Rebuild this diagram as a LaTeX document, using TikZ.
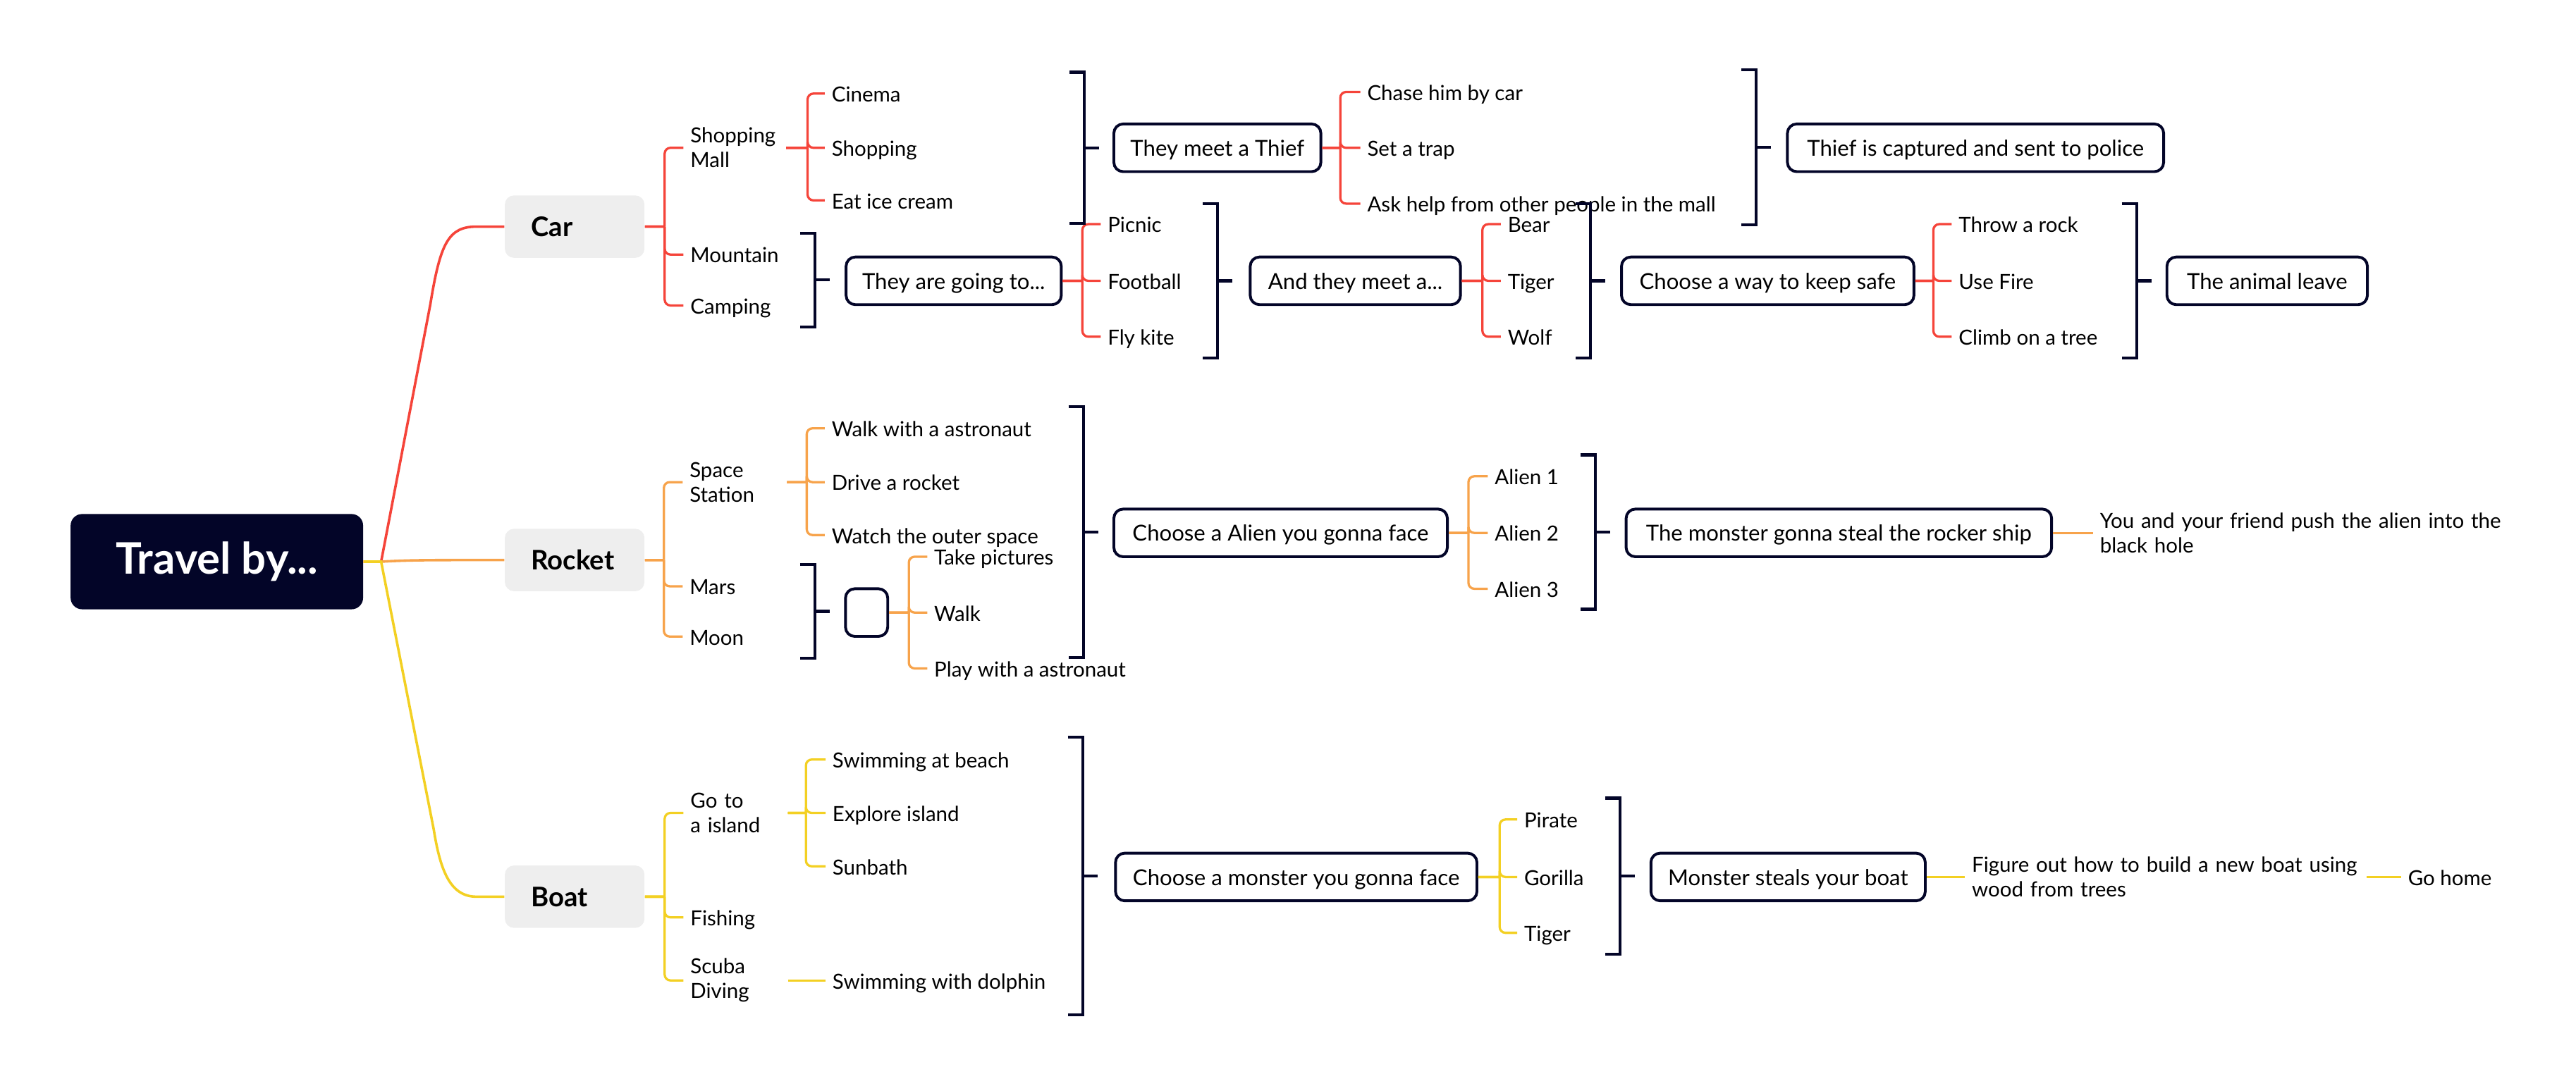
\documentclass[tikz,border=0pt]{standalone}
\usepackage{fontspec}
\setmainfont{Lato}
\usetikzlibrary{positioning}
\hyphenpenalty=10000

\definecolor{navy}{RGB}{3,5,40}
\definecolor{carred}{RGB}{245,68,58}
\definecolor{rocketorange}{RGB}{247,163,75}
\definecolor{boatyellow}{RGB}{243,208,35}
\definecolor{topicgray}{RGB}{238,238,238}

\newcommand\sumbrace[3]{\draw[brk] (#1-9,#2) -- (#1,#2) -- (#1,#3) -- (#1-9,#3) (#1,{(#2+#3)/2}) -- ++(9,0);}

\begin{document}
\begin{tikzpicture}[x=0.025cm,y=-0.025cm,
    font=\fontsize{9}{10.7}\selectfont,
    root/.style={fill=navy, text=white, rounded corners=5pt, minimum width=4.45cm, minimum height=1.45cm, inner sep=0pt, font=\bfseries\fontsize{18.8}{22}\selectfont},
    topic/.style={anchor=west, fill=topicgray, rounded corners=4pt, text width=1.325cm, inner xsep=0.4cm, inner ysep=0pt, minimum height=0.95cm, align=left, font=\bfseries\fontsize{11.7}{14}\selectfont},
    leaf/.style={anchor=west, inner xsep=0.1cm, inner ysep=0pt, text height=0.95em, text depth=0.23em},
    two/.style={anchor=west, inner xsep=0.1cm, inner ysep=0pt, align=left, text width=#1*0.025cm},
    box/.style={draw=navy, line width=1.2pt, fill=white, rounded corners=4pt, minimum width=#1*0.025cm, minimum height=0.725cm, inner sep=0pt, text height=0.95em, text depth=0.23em, font=\fontsize{9.5}{11}\selectfont},
    fork/.style={to path={-- ++(#1,0) ++(0,0) |- (\tikztotarget)}},
    carbr/.style={carred, line width=1pt, rounded corners=2.5pt},
    rocketbr/.style={rocketorange, line width=1pt, rounded corners=2.5pt},
    boatbr/.style={boatyellow, line width=1pt, rounded corners=2.5pt},
    trunk/.style={line width=1.1pt},
    brk/.style={draw=navy, line width=1.3pt}]

    \useasboundingbox (0,0) rectangle (1568,661);

    \node[root] (travel) at (132,342) {Travel by...};
    \node[topic] (car) at (307,138) {Car};
    \node[topic] (rocket) at (307,341) {Rocket};
    \node[topic] (boat) at (307,546) {Boat};

    \node[two=54] (mall) at (416,90) {Shopping\\Mall};
    \node[leaf] (mountain) at (416,155) {Mountain};
    \node[leaf] (camping) at (416,186) {Camping};
    \node[leaf] (cinema) at (502,57) {Cinema};
    \node[leaf] (shop) at (502,90) {Shopping};
    \node[leaf] (icecream) at (502,122) {Eat ice cream};
    \node[box=126] (thief) at (741,90) {They meet a Thief};
    \node[leaf] (chase) at (828,56) {Chase him by car};
    \node[leaf] (trap) at (828,90) {Set a trap};
    \node[leaf] (askhelp) at (828,124) {Ask help from other people in the mall};
    \node[box=229] (captured) at (1202.5,90) {Thief is captured and sent to police};
    \node[box=131] (going) at (580.5,171) {They are going to...};
    \node[leaf] (picnic) at (670,136.5) {Picnic};
    \node[leaf] (football) at (670,171) {Football};
    \node[leaf] (kite) at (670,205) {Fly kite};
    \node[box=128] (meet) at (825,171) {And they meet a...};
    \node[leaf] (bear) at (913.5,136.5) {Bear};
    \node[leaf] (tiger) at (913.5,171) {Tiger};
    \node[leaf] (wolf) at (913.5,205) {Wolf};
    \node[box=178] (safe) at (1076,171) {Choose a way to keep safe};
    \node[leaf] (rock) at (1188,136.5) {Throw a rock};
    \node[leaf] (fire) at (1188,171) {Use Fire};
    \node[leaf] (climb) at (1188,205) {Climb on a tree};
    \node[box=122] (leave) at (1380,171) {The animal leave};

    \node[two=55] (station) at (415.5,293.6) {Space\\Station};
    \node[leaf] (mars) at (415.5,357) {Mars};
    \node[leaf] (moon) at (415.5,387.6) {Moon};
    \node[leaf] (walkastro) at (502,260.8) {Walk with a astronaut};
    \node[leaf] (drive) at (502,293.6) {Drive a rocket};
    \node[leaf] (watch) at (502,325.8) {Watch the outer space};
    \node[box=203] (alien) at (779.5,324.5) {Choose a Alien you gonna face};
    \node[leaf] (alien1) at (905.6,290) {Alien 1};
    \node[leaf] (alien2) at (905.6,324.5) {Alien 2};
    \node[leaf] (alien3) at (905.6,358.5) {Alien 3};
    \node[box=259] (steal) at (1119.3,324.5) {The monster gonna steal the rocker ship};
    \node[two=260] (push) at (1274,324.5) {You and your friend push the alien into the\\black hole};
    \node[box=25.7] (blank) at (527.5,373) {};
    \node[leaf] (pictures) at (564.4,339) {Take pictures};
    \node[leaf] (walk) at (564.4,373) {Walk};
    \node[leaf] (play) at (564.4,407) {Play with a astronaut};

    \node[two=55] (island) at (416,495) {Go to\\a island};
    \node[leaf] (fishing) at (416,558.6) {Fishing};
    \node[two=55] (scuba) at (416,597) {Scuba\\Diving};
    \node[leaf] (beach) at (502.5,462.5) {Swimming at beach};
    \node[leaf] (explore) at (502.5,495) {Explore island};
    \node[leaf] (sunbath) at (502.5,527.5) {Sunbath};
    \node[leaf] (dolphin) at (502.5,597) {Swimming with dolphin};
    \node[box=220] (monster) at (789,534) {Choose a monster you gonna face};
    \node[leaf] (pirate) at (923.5,499) {Pirate};
    \node[leaf] (gorilla) at (923.5,534) {Gorilla};
    \node[leaf] (tigerb) at (923.5,568) {Tiger};
    \node[box=167] (steals) at (1088.4,534) {Monster steals your boat};
    \node[two=236] (figure) at (1196,534) {Figure out how to build a new boat using\\wood from trees};
    \node[leaf] (gohome) at (1461.5,534) {Go home};

    \draw[trunk, carred] (travel.east) -- (232,342) -- (262,185) .. controls (268,148) and (273,138) .. (290,138) -- (car.west);
    \draw[trunk, rocketorange] (travel.east) -- (232,342) .. controls (250,341) and (260,341) .. (rocket.west);
    \draw[trunk, boatyellow] (travel.east) -- (232,342) -- (264,505) .. controls (268,530) and (274,546) .. (290,546) -- (boat.west);

    \path[carbr]
    (car.east) edge[fork=12] (mall.west) edge[fork=12] (mountain.west) edge[fork=12] (camping.west)
    (mall.east) edge[fork=13] (cinema.west) edge[fork=13] (shop.west) edge[fork=13] (icecream.west)
    (thief.east) edge[fork=11] (chase.west) edge[fork=11] (trap.west) edge[fork=11] (askhelp.west)
    (going.east) edge[fork=12] (picnic.west) edge[fork=12] (football.west) edge[fork=12] (kite.west)
    (meet.east) edge[fork=12.5] (bear.west) edge[fork=12.5] (tiger.west) edge[fork=12.5] (wolf.west)
    (safe.east) edge[fork=11] (rock.west) edge[fork=11] (fire.west) edge[fork=11] (climb.west);

    \path[rocketbr]
    (rocket.east) edge[fork=11.5] (station.west) edge[fork=11.5] (mars.west) edge[fork=11.5] (moon.west)
    (station.east) edge[fork=12] (walkastro.west) edge[fork=12] (drive.west) edge[fork=12] (watch.west)
    (alien.east) edge[fork=12] (alien1.west) edge[fork=12] (alien2.west) edge[fork=12] (alien3.west)
    (blank.east) edge[fork=12] (pictures.west) edge[fork=12] (walk.west) edge[fork=12] (play.west)
    (steal.east) edge (push.west);

    \path[boatbr]
    (boat.east) edge[fork=12] (island.west) edge[fork=12] (fishing.west) edge[fork=12] (scuba.west)
    (island.east) edge[fork=11] (beach.west) edge[fork=11] (explore.west) edge[fork=11] (sunbath.west)
    (scuba.east) edge (dolphin.west)
    (monster.east) edge[fork=13] (pirate.west) edge[fork=13] (gorilla.west) edge[fork=13] (tigerb.west)
    (steals.east) edge (figure.west)
    (figure.east) edge (gohome.west);

    \sumbrace{660}{44}{136}
    \sumbrace{1069}{42.5}{137}
    \sumbrace{496}{142}{199}
    \sumbrace{741}{124}{218}
    \sumbrace{968}{124}{218}
    \sumbrace{1300.5}{124}{218}
    \sumbrace{659.4}{247.5}{400.5}
    \sumbrace{496}{343.7}{400.9}
    \sumbrace{971}{277}{371}
    \sumbrace{659}{449}{618}
    \sumbrace{986}{486}{581}

\end{tikzpicture}
\end{document}
